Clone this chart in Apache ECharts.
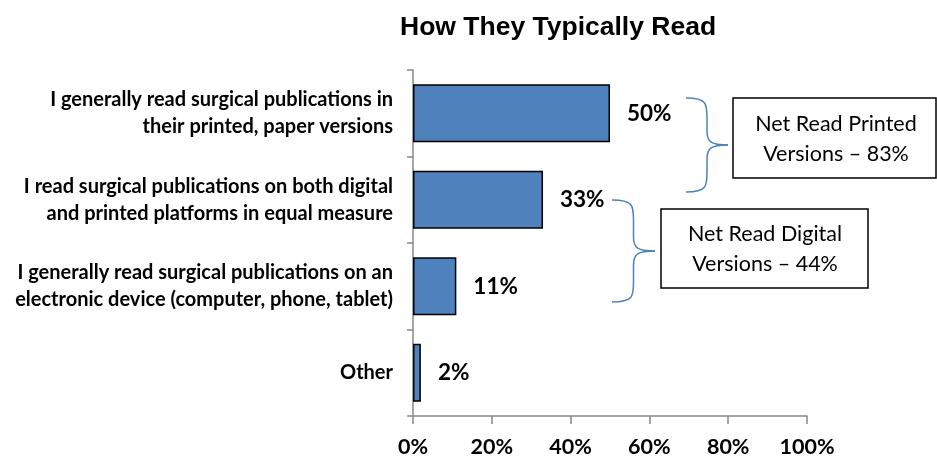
<!DOCTYPE html>
<html>
<head>
<meta charset="utf-8">
<script src="https://cdn.jsdelivr.net/npm/echarts@6/dist/echarts.min.js"></script>
<style>
  html, body { margin: 0; padding: 0; background: #fff; }
  #chart { width: 937px; height: 458px; }
</style>
</head>
<body>
<div id="chart"></div>
<script>
const categories = [
  'I generally read surgical publications in\ntheir printed, paper versions',
  'I read surgical publications on both digital\nand printed platforms in equal measure',
  'I generally read surgical publications on an\nelectronic device (computer, phone, tablet)',
  'Other'
];
const values = [50, 33, 11, 2];
const xTicks = [0, 20, 40, 60, 80, 100];
const notes = ['Net Read Printed\nVersions \u2013 83%', 'Net Read Digital\nVersions \u2013 44%'];

const chart = echarts.init(document.getElementById('chart'));

// curly brace opening to the left, point on the right
function brace(x0, y0, x1, y1) {
  const ym = (y0 + y1) / 2;
  const xm = (x0 + x1) / 2;
  const st = { stroke: '#4f81bd', lineWidth: 1.5, fill: null };
  return {
    type: 'group',
    children: [
      { type: 'bezierCurve', shape: { x1: x0, y1: y0, cpx1: xm, cpy1: y0, cpx2: xm, cpy2: y0 + 6, x2: xm, y2: y0 + 20 }, style: st },
      { type: 'line', shape: { x1: xm, y1: y0 + 20, x2: xm, y2: ym - 14 }, style: st },
      { type: 'bezierCurve', shape: { x1: xm, y1: ym - 14, cpx1: xm, cpy1: ym - 3, cpx2: xm + 4, cpy2: ym, x2: x1, y2: ym }, style: st },
      { type: 'bezierCurve', shape: { x1: x1, y1: ym, cpx1: xm + 4, cpy1: ym, cpx2: xm, cpy2: ym + 3, x2: xm, y2: ym + 14 }, style: st },
      { type: 'line', shape: { x1: xm, y1: ym + 14, x2: xm, y2: y1 - 20 }, style: st },
      { type: 'bezierCurve', shape: { x1: xm, y1: y1 - 20, cpx1: xm, cpy1: y1 - 6, cpx2: xm, cpy2: y1, x2: x0, y2: y1 }, style: st }
    ]
  };
}

const option = {
  animation: false,
  title: {
    text: 'How They Typically Read',
    left: 395,
    top: 9,
    textStyle: { fontFamily: 'Liberation Sans', fontWeight: 'bold', fontSize: 26.5, color: '#000' }
  },
  grid: { left: 413, right: 130, top: 70, bottom: 40 },
  xAxis: {
    type: 'value',
    min: 0,
    max: 100,
    interval: 20,
    splitLine: { show: false },
    axisLine: { show: true, lineStyle: { color: '#888', width: 1.5 } },
    axisTick: { show: true, length: 8, lineStyle: { color: '#888', width: 1.5 } },
    axisLabel: {
      margin: 20,
      fontFamily: 'Lato', fontWeight: 'bold', fontSize: 21.5, color: '#000',
      formatter: v => xTicks.includes(v) ? v + '%' : ''
    }
  },
  yAxis: {
    type: 'category',
    inverse: true,
    data: categories,
    axisLine: { show: true, lineStyle: { color: '#888', width: 1.5 } },
    axisTick: { show: true, length: 6, lineStyle: { color: '#888', width: 1.5 } },
    axisLabel: {
      margin: 20,
      align: 'right',
      lineHeight: 27,
      fontFamily: 'Lato', fontWeight: 'bold', fontSize: 20, color: '#000'
    }
  },
  series: [{
    type: 'bar',
    data: values,
    barCategoryGap: '33%',
    itemStyle: { color: '#4f81bd', borderColor: '#000', borderWidth: 1.5 },
    label: {
      show: true,
      position: 'right',
      distance: 17,
      formatter: '{c}%',
      fontFamily: 'Lato', fontWeight: 'bold', fontSize: 22.5, color: '#000'
    }
  }],
  graphic: [
    brace(686, 98, 728, 192),
    brace(612, 200, 655, 302),
    { type: 'rect', shape: { x: 733, y: 98, width: 203, height: 80 },
      style: { fill: '#fff', stroke: '#000', lineWidth: 1.5 } },
    { type: 'text', x: 836, y: 139,
      style: { text: notes[0], align: 'center', verticalAlign: 'middle', lineHeight: 30,
        font: '21.5px Lato', fill: '#000' } },
    { type: 'rect', shape: { x: 661, y: 209, width: 207, height: 79 },
      style: { fill: '#fff', stroke: '#000', lineWidth: 1.5 } },
    { type: 'text', x: 765, y: 249,
      style: { text: notes[1], align: 'center', verticalAlign: 'middle', lineHeight: 30,
        font: '21.5px Lato', fill: '#000' } }
  ]
};

chart.setOption(option);
</script>
</body>
</html>
